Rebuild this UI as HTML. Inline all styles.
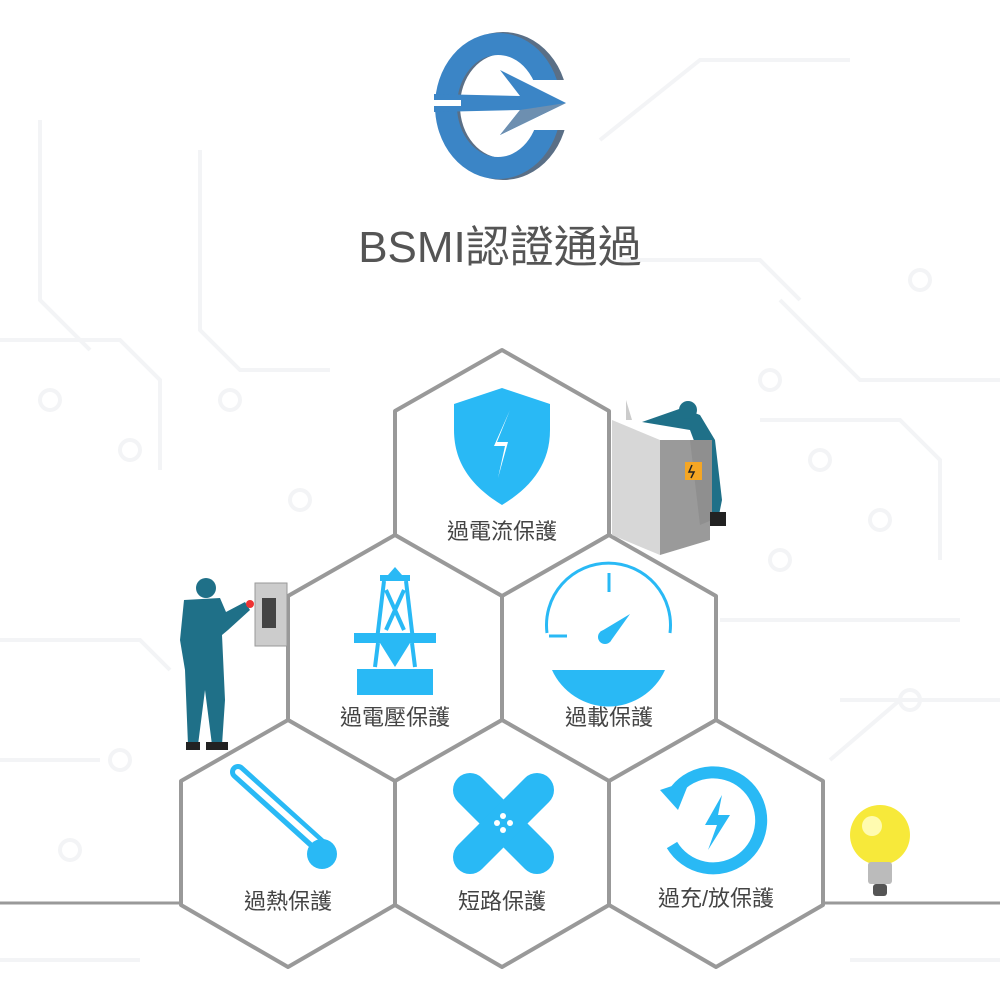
<!DOCTYPE html>
<html><head><meta charset="utf-8"><style>
html,body{margin:0;padding:0;background:#fff;}
svg{display:block;}
text{font-family:"Liberation Sans","Noto Sans CJK TC",sans-serif;fill:#444;}
</style></head><body>
<svg width="1000" height="1000" viewBox="0 0 1000 1000" xmlns="http://www.w3.org/2000/svg">
<!-- faint circuit background -->
<g stroke="#f3f4f6" stroke-width="4" fill="none">
<path d="M0 340 H120 L160 380 V470"/><path d="M40 120 V300 L90 350"/><path d="M200 150 V330 L240 370 H330"/>
<path d="M780 300 L860 380 H1000"/><path d="M760 420 H900 L940 460 V560"/><path d="M720 620 H960"/>
<path d="M0 640 H140 L170 670"/><path d="M0 760 H100"/><path d="M840 700 H1000"/><path d="M830 760 L900 700"/>
<path d="M0 960 H140"/><path d="M850 960 H1000"/><path d="M600 140 L700 60 H850"/><path d="M620 260 H760 L800 300"/>
<circle cx="230" cy="400" r="10"/><circle cx="130" cy="450" r="10"/><circle cx="300" cy="500" r="10"/><circle cx="50" cy="400" r="10"/>
<circle cx="770" cy="380" r="10"/><circle cx="820" cy="460" r="10"/><circle cx="880" cy="520" r="10"/><circle cx="910" cy="700" r="10"/>
<circle cx="780" cy="560" r="10"/><circle cx="120" cy="760" r="10"/><circle cx="70" cy="850" r="10"/><circle cx="920" cy="280" r="10"/>
</g>
<!-- logo -->
<g>
<ellipse cx="503" cy="106" rx="54" ry="63" fill="none" stroke="#5a6f86" stroke-width="22"/>
<ellipse cx="498" cy="106" rx="52" ry="62" fill="none" stroke="#3b85c6" stroke-width="22"/>
<rect x="530" y="80" width="45" height="50" fill="#fff"/>
<polygon points="434,94 520,96 500,70 566,103 500,135 520,110 434,112" fill="#3b85c6"/>
<polygon points="520,110 566,103 500,135" fill="#6d8fb0"/>
<rect x="433" y="100" width="28" height="6" fill="#fff"/>
</g>
<text x="500" y="262" font-size="44" text-anchor="middle" style="fill:#555">BSMI認證通過</text>
<!-- baseline -->
<line x1="0" y1="903" x2="1000" y2="903" stroke="#999" stroke-width="3"/>
<!-- hexagons -->
<g fill="#fff" stroke="#999" stroke-width="4" stroke-linejoin="round">
<polygon points="502,350 609,411 609,535 502,597 395,535 395,411"/>
<polygon points="395,535 502,596 502,720 395,782 288,720 288,596"/>
<polygon points="609,535 716,596 716,720 609,782 502,720 502,596"/>
<polygon points="288,720 395,781 395,905 288,967 181,905 181,781"/>
<polygon points="502,720 609,781 609,905 502,967 395,905 395,781"/>
<polygon points="716,720 823,781 823,905 716,967 609,905 609,781"/>
</g>
<!-- labels -->
<g font-size="22" text-anchor="middle">
<text x="502" y="539">過電流保護</text>
<text x="395" y="725">過電壓保護</text>
<text x="609" y="725">過載保護</text>
<text x="288" y="909">過熱保護</text>
<text x="502" y="909">短路保護</text>
<text x="716" y="906">過充/放保護</text>
</g>
<g fill="#29b9f5">
<path d="M502 388 L550 404 V430 C550 465 530 488 502 505 C474 488 454 465 454 430 V404Z"/>
<path d="M510 410 L497 442 H508 L498 478 L505 446 H494Z" fill="#fff"/>
<rect x="380" y="575" width="30" height="6"/><polygon points="395,567 388,575 402,575"/>
<path d="M384 581 L377 640 M406 581 L413 640 M386 590 L404 630 M404 590 L386 630" stroke="#29b9f5" stroke-width="4" fill="none"/>
<rect x="354" y="633" width="82" height="10"/>
<polygon points="380,643 410,643 395,667"/>
<path d="M378 643 L375 667 M412 643 L415 667" stroke="#29b9f5" stroke-width="4"/>
<rect x="357" y="669" width="76" height="26"/>
<path d="M547 633 A62 62 0 1 1 670 633" stroke="#29b9f5" stroke-width="3" fill="none"/>
<line x1="609" y1="573" x2="609" y2="592" stroke="#29b9f5" stroke-width="3"/>
<line x1="549" y1="636" x2="567" y2="636" stroke="#29b9f5" stroke-width="3"/>
<path d="M552 670 H665 A62 62 0 0 1 552 670Z"/>
<circle cx="605" cy="637" r="7"/><polygon points="600,632 630,614 610,642"/>
<path d="M238 772 L322 848" stroke="#29b9f5" stroke-width="16" stroke-linecap="round"/>
<path d="M238 772 L316 842" stroke="#fff" stroke-width="6" stroke-linecap="round"/>
<circle cx="322" cy="854" r="15"/>
<path d="M470 790 L537 857" stroke="#29b9f5" stroke-width="34" stroke-linecap="round"/>
<path d="M537 790 L470 857" stroke="#29b9f5" stroke-width="34" stroke-linecap="round"/>
<circle cx="497" cy="823" r="3" fill="#fff"/><circle cx="510" cy="823" r="3" fill="#fff"/><circle cx="503" cy="816" r="3" fill="#fff"/><circle cx="503" cy="830" r="3" fill="#fff"/>
<path d="M676 790 A48 48 0 1 1 672 845" stroke="#29b9f5" stroke-width="12" fill="none"/>
<polygon points="660,790 690,780 678,810"/>
<path d="M722 795 L705 825 H717 L708 850 L730 815 H718Z"/>
</g>
<!-- bulb -->
<circle cx="880" cy="835" r="30" fill="#f7e93a"/><circle cx="872" cy="826" r="10" fill="#fffbb0"/>
<rect x="868" y="862" width="24" height="22" rx="3" fill="#bbb"/><rect x="873" y="884" width="14" height="12" rx="3" fill="#555"/>
<!-- cabinet + worker right -->
<polygon points="612,420 660,440 660,555 612,535" fill="#d7d7d7"/>
<polygon points="660,440 710,440 710,540 660,555" fill="#9a9a9a"/>
<polygon points="626,400 632,420 626,420" fill="#ccc"/>
<path d="M642 422 L682 408 L700 415 L715 440 L722 500 L718 520 L710 520 L705 470 L690 430Z" fill="#1f7088"/>
<polygon points="690,440 712,440 712,520 700,525" fill="#8f8f8f"/>
<rect x="685" y="462" width="17" height="18" fill="#f5a623"/>
<path d="M692 465 L689 472 H694 L691 478" stroke="#222" stroke-width="1.5" fill="none"/>
<circle cx="688" cy="410" r="9" fill="#1f7088"/>
<rect x="710" y="512" width="16" height="14" fill="#222"/>
<!-- worker left -->
<circle cx="206" cy="588" r="10" fill="#1f7088"/>
<path d="M184 600 L220 598 L226 612 L245 602 L250 610 L228 630 L222 635 L225 700 L222 745 L212 745 L205 690 L198 745 L188 745 L185 670 L180 640Z" fill="#1f7088"/>
<rect x="186" y="742" width="14" height="8" fill="#222"/><rect x="206" y="742" width="22" height="8" fill="#222"/>
<rect x="255" y="583" width="32" height="63" fill="#ccc" stroke="#999"/>
<rect x="262" y="598" width="14" height="30" fill="#444"/>
<circle cx="250" cy="604" r="4" fill="#e33"/>
</svg>
</body></html>
